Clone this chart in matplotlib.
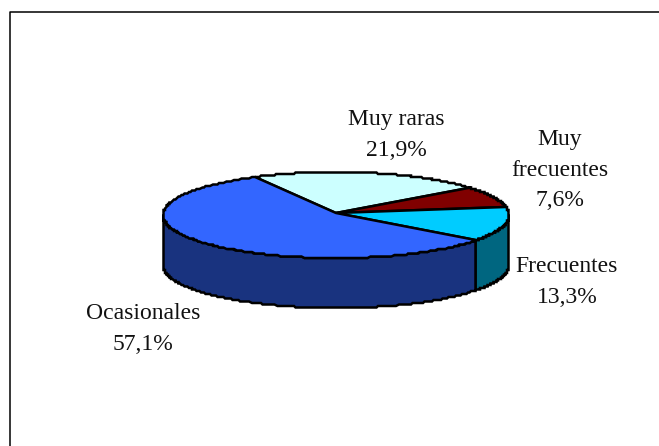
import numpy as np
import matplotlib
matplotlib.use("Agg")
import matplotlib.pyplot as plt
from matplotlib.patches import Polygon

W, H = 659, 446

labels = ["Muy raras", "Muy\nfrecuentes", "Frecuentes", "Ocasionales"]
values = [21.9, 7.6, 13.3, 57.1]
top_colors = ["#CCFFFF", "#800000", "#00CCFF", "#3366FF"]
side_colors = ["#99CCCC", "#400000", "#006680", "#19337F"]
label_pos = [(396, 135), (560, 170), (567, 282), (143, 329)]

CX, CY = 336, 215
APEX_Y = 213
RX, RY = 173, 43
DEPTH = 50
START = 118


def stepped(xs, ys, grid=1.5):
    # the original has a jagged, stair-stepped rim
    return np.round(xs / grid) * grid, np.round(ys / grid) * grid


def arc(a1, a2, dy=0):
    t = np.radians(np.linspace(a1, a2, 200))
    return stepped(CX + RX * np.cos(t), CY + RY * np.sin(t) + dy)


fig = plt.figure(figsize=(W / 100, H / 100), dpi=100)
ax = fig.add_axes([0, 0, 1, 1])
ax.set_xlim(0, W)
ax.set_ylim(H, 0)
ax.axis("off")

# frame is cut off by the picture on the right and at the bottom
ax.plot([9.5, 9.5, W], [H, 11.5, 11.5], color="black", lw=1.1)

# wedge angles, clockwise on screen from START
total = sum(values)
edges = [START]
for v in values:
    edges.append(edges[-1] - v / total * 360)

# y axis is inverted, so screen angle a is -a here
for i, v in enumerate(values):
    a1, a2 = -edges[i], -edges[i + 1]
    # side wall only on the front half
    lo, hi = max(a1, 0), min(a2, 180)
    if hi > lo:
        x1, y1 = arc(lo, hi)
        x2, y2 = arc(hi, lo, DEPTH)
        pts = np.c_[np.r_[x1, x2], np.r_[y1, y2]]
        ax.add_patch(Polygon(pts, fc=side_colors[i], ec="black", lw=1.8, zorder=2, joinstyle="miter"))

for i, v in enumerate(values):
    a1, a2 = -edges[i], -edges[i + 1]
    x, y = arc(a1, a2)
    pts = np.c_[np.r_[CX, x], np.r_[APEX_Y, y]]
    ax.add_patch(Polygon(pts, fc=top_colors[i], ec="black", lw=1.8, zorder=3, joinstyle="miter"))

for lab, v, (x, y) in zip(labels, values, label_pos):
    txt = lab + "\n" + f"{v:.1f}".replace(".", ",") + "%"
    ax.text(x, y, txt, ha="center", va="center", family="Liberation Serif",
            fontsize=17, linespacing=1.58, color="#111111", zorder=5)

fig.savefig("out.png", dpi=100)
